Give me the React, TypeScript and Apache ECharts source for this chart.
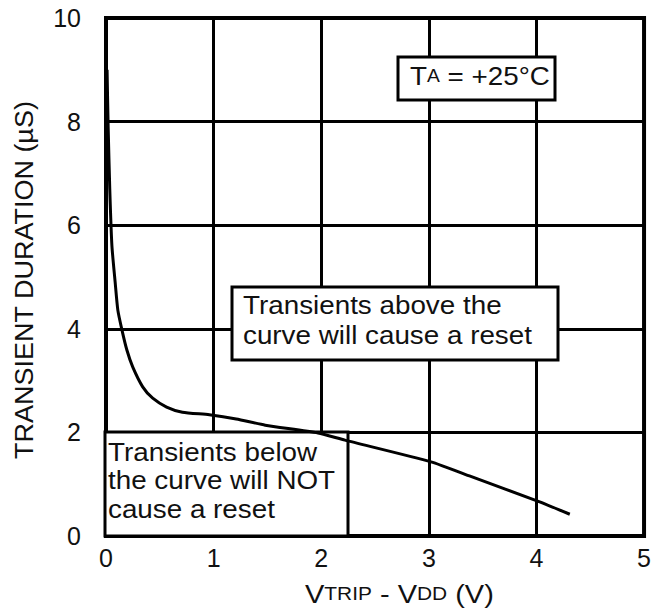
import React, { useEffect, useRef } from "react";
import * as echarts from "echarts";

const curveX = [0.01, 0.02, 0.035, 0.055, 0.085, 0.11, 0.148, 0.194, 0.249, 0.341, 0.434, 0.563, 0.71, 0.96, 1.21, 1.48, 1.97, 2.22, 3.02, 3.39, 4.03, 4.31];
const curveY = [9.0, 7.9, 6.7, 5.6, 4.9, 4.36, 3.98, 3.59, 3.26, 2.88, 2.66, 2.49, 2.39, 2.34, 2.26, 2.14, 1.99, 1.85, 1.43, 1.15, 0.66, 0.42];
const xTicks = [0, 1, 2, 3, 4, 5];
const yTicks = [0, 2, 4, 6, 8, 10];
const yTitle = "TRANSIENT DURATION (µS)";
const xTitle = "{b|V}{s|TRIP}{b| - V}{s|DD}{b| (V)}";
const tempNote = "{b|T}{s|A}{b| = +25°C}";
const noteAbove = ["Transients above the", "curve will cause a reset"];
const noteBelow = ["Transients below", "the curve will NOT", "cause a reset"];
const FONT = "'Liberation Sans', Arial, Helvetica, sans-serif";
const INK = "#111";
const STRETCH = 1.07;

export default function App() {
  const ref = useRef<HTMLDivElement>(null);
  useEffect(() => {
    if (!ref.current) return;
    const chart = echarts.init(ref.current, undefined, { renderer: "svg" });
    const data = curveX.map((x, i) => [x, curveY[i]]);
    const richBS = {
      b: { fontSize: 25, fontFamily: FONT, fill: INK, color: INK },
      s: { fontSize: 18, fontFamily: FONT, fill: INK, color: INK },
    };
    chart.setOption({
      animation: false,
      backgroundColor: "#fff",
      textStyle: { fontFamily: FONT },
      grid: { left: 106, right: 6, top: 18, bottom: 77, show: true, borderColor: "#000", borderWidth: 4, z: 0 },
      xAxis: {
        type: "value",
        min: xTicks[0],
        max: xTicks[xTicks.length - 1],
        interval: 1,
        axisLine: { show: false },
        axisTick: { show: false },
        splitLine: { show: true, lineStyle: { color: "#000", width: 3 } },
        axisLabel: { fontSize: 25, color: INK, margin: 9, fontFamily: FONT },
      },
      yAxis: {
        type: "value",
        min: yTicks[0],
        max: yTicks[yTicks.length - 1],
        interval: 2,
        axisLine: { show: false },
        axisTick: { show: false },
        splitLine: { show: true, lineStyle: { color: "#000", width: 3 } },
        axisLabel: { fontSize: 25, color: INK, margin: 25, fontFamily: FONT },
      },
      graphic: [
        {
          type: "text",
          z: 2,
          x: 24,
          y: 280,
          rotation: Math.PI / 2,
          scaleX: 1.08,
          style: {
            text: yTitle,
            fontSize: 25,
            fontFamily: FONT,
            align: "center",
            verticalAlign: "middle",
            fill: INK,
          },
        },
        {
          type: "text",
          z: 2,
          x: 305,
          y: 594,
          scaleX: 1.16,
          style: {
            text: xTitle,
            align: "left",
            verticalAlign: "middle",
            fill: INK,
            rich: richBS,
          },
        },
        {
          type: "rect",
          z: 1,
          shape: { x: 398, y: 57, width: 157, height: 43 },
          style: { fill: "#fff", stroke: "#000", lineWidth: 3 },
        },
        {
          type: "text",
          z: 2,
          x: 410,
          y: 76,
          scaleX: STRETCH,
          style: {
            text: tempNote,
            verticalAlign: "middle",
            fill: INK,
            rich: {
              b: { fontSize: 26, fontFamily: FONT, fill: INK },
              s: { fontSize: 18, fontFamily: FONT, fill: INK },
            },
          },
        },
        {
          type: "rect",
          z: 1,
          shape: { x: 232, y: 287, width: 326, height: 73 },
          style: { fill: "#fff", stroke: "#000", lineWidth: 3 },
        },
        {
          type: "text",
          z: 2,
          x: 243,
          y: 290,
          scaleX: STRETCH,
          style: {
            text: noteAbove.join("\n"),
            fontSize: 26,
            fontFamily: FONT,
            lineHeight: 30,
            verticalAlign: "top",
            fill: INK,
          },
        },
        {
          type: "rect",
          z: 1,
          shape: { x: 105, y: 432, width: 243, height: 104 },
          style: { fill: "#fff", stroke: "#000", lineWidth: 3 },
        },
        {
          type: "text",
          z: 2,
          x: 108,
          y: 438,
          scaleX: STRETCH,
          style: {
            text: noteBelow.join("\n"),
            fontSize: 26,
            fontFamily: FONT,
            lineHeight: 28.5,
            verticalAlign: "top",
            fill: INK,
          },
        },
      ],
      series: [
        {
          type: "line",
          data,
          z: 5,
          showSymbol: false,
          smooth: 0.2,
          lineStyle: { color: "#000", width: 3 },
        },
      ],
    });
    return () => chart.dispose();
  }, []);
  return <div ref={ref} style={{ position: "absolute", left: 0, top: 0, width: 654, height: 613 }} />;
}
